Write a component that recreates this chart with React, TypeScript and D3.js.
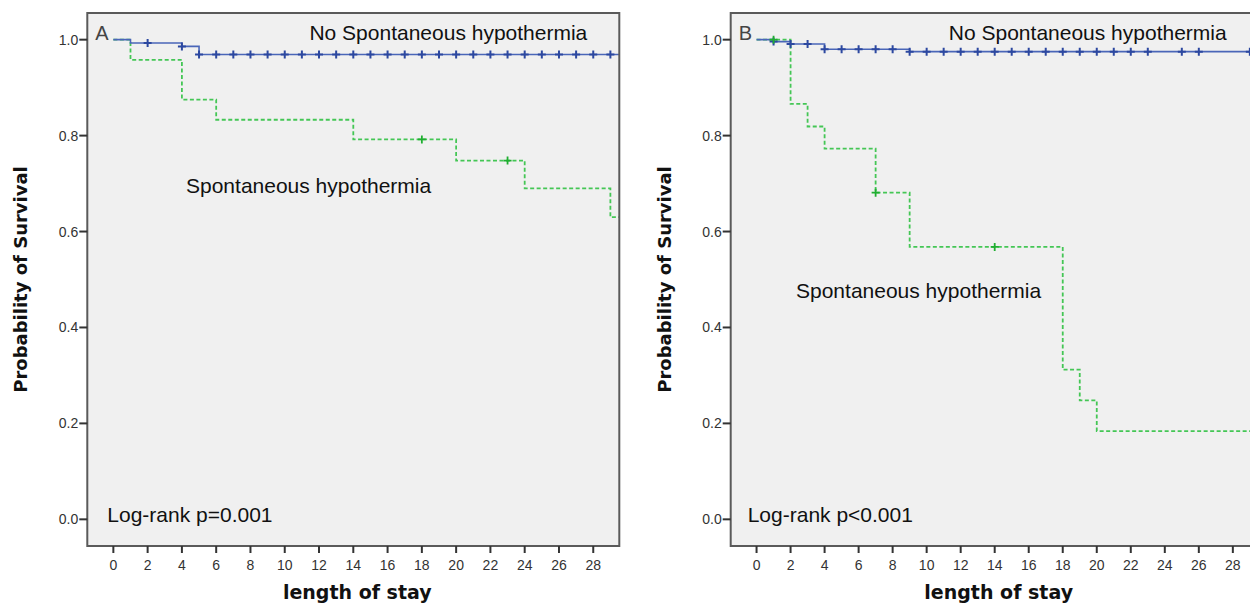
import React from "react";
import * as d3 from "d3";

// ---------- data ----------
const xTicks = [0, 2, 4, 6, 8, 10, 12, 14, 16, 18, 20, 22, 24, 26, 28];
const yTicks = [0, 0.2, 0.4, 0.6, 0.8, 1.0];

// Panel A
const aNoTimes = [0, 1, 4, 5];
const aNoSurv = [1.0, 0.993, 0.986, 0.969];
const aNoCensor = [2, 4, 5, 6, 7, 8, 9, 10, 11, 12, 13, 14, 15, 16, 17, 18, 19, 20, 21, 22, 23, 24, 25, 26, 27, 28, 29];
const aHypTimes = [0, 1, 4, 6, 14, 20, 24, 29];
const aHypSurv = [1.0, 0.958, 0.875, 0.833, 0.792, 0.748, 0.69, 0.63];
const aHypCensor = [18, 23];

// Panel B
const bNoTimes = [0, 1, 2, 4, 9];
const bNoSurv = [1.0, 0.996, 0.991, 0.98, 0.975];
const bNoCensor = [1, 2, 3, 4, 5, 6, 7, 8, 9, 10, 11, 12, 13, 14, 15, 16, 17, 18, 19, 20, 21, 22, 23, 25, 26, 29];
const bHypTimes = [0, 2, 3, 4, 7, 9, 18, 19, 20];
const bHypSurv = [1.0, 0.866, 0.819, 0.773, 0.681, 0.568, 0.312, 0.248, 0.184];
const bHypCensor = [1, 7, 14];

const panelLabels = ["A", "B"];
const pValues = ["Log-rank p=0.001", "Log-rank p<0.001"];

const X_DOMAIN: [number, number] = [-1.52, 29.52];
const Y_DOMAIN: [number, number] = [-0.0556, 1.0556];

const BLUE = "#4a66b8";
const BLUE_DARK = "#2c48a0";
const GREEN = "#44c655";
const GREEN_DARK = "#1fae30";

function survAt(times: number[], surv: number[], t: number) {
  let s = surv[0];
  for (let i = 0; i < times.length; i++) if (times[i] <= t) s = surv[i];
  return s;
}

type PanelProps = {
  left: number;
  width: number;
  label: string;
  pText: string;
  pX: number;
  noTimes: number[];
  noSurv: number[];
  noCensor: number[];
  hypTimes: number[];
  hypSurv: number[];
  hypCensor: number[];
  hypLabel: [number, number];
  id: string;
};

function Panel(p: PanelProps) {
  const top = 13;
  const bottom = 546;
  const x = d3.scaleLinear().domain(X_DOMAIN).range([p.left, p.left + p.width]);
  const y = d3.scaleLinear().domain(Y_DOMAIN).range([bottom, top]);
  const line = d3
    .line<[number, number]>()
    .x((d) => x(d[0]))
    .y((d) => y(d[1]))
    .curve(d3.curveStepAfter);
  const pts = (times: number[], surv: number[]): [number, number][] => {
    const arr: [number, number][] = times.map((t, i) => [t, surv[i]]);
    arr.push([X_DOMAIN[1], surv[surv.length - 1]]);
    return arr;
  };
  const cross = (t: number, s: number, r: number) => {
    const cx = x(t);
    const cy = y(s);
    return `M${cx - r},${cy}H${cx + r}M${cx},${cy - r}V${cy + r}`;
  };
  const sans = "'Liberation Sans', Arial, sans-serif";
  const bold = "'DejaVu Sans', Verdana, sans-serif";
  const midX = x(14);
  return (
    <g>
      <defs>
        <clipPath id={p.id}>
          <rect x={p.left} y={top} width={p.width} height={bottom - top} />
        </clipPath>
      </defs>
      <rect x={p.left} y={top} width={p.width} height={bottom - top} fill="#f0f0f0" />
      <g clipPath={`url(#${p.id})`}>
        <path d={line(pts(p.hypTimes, p.hypSurv)) || ""} fill="none" stroke={GREEN} strokeWidth={1.8} strokeDasharray="4,2.5" />
        <path d={line(pts(p.noTimes, p.noSurv)) || ""} fill="none" stroke={BLUE} strokeWidth={1.6} />
        {p.noCensor.map((t, i) => (
          <path key={"nc" + i} d={cross(t, survAt(p.noTimes, p.noSurv, t), 4)} stroke={BLUE_DARK} strokeWidth={2} fill="none" />
        ))}
        {p.hypCensor.map((t, i) => (
          <path key={"hc" + i} d={cross(t, survAt(p.hypTimes, p.hypSurv, t), 4)} stroke={GREEN_DARK} strokeWidth={1.8} fill="none" />
        ))}
      </g>
      <rect x={p.left} y={top} width={p.width} height={bottom - top} fill="none" stroke="#5a5a5a" strokeWidth={2} />
      {/* y axis */}
      {yTicks.map((v) => (
        <g key={"y" + v}>
          <line x1={p.left - 8} x2={p.left} y1={y(v)} y2={y(v)} stroke="#333" strokeWidth={2} />
          <text x={p.left - 9} y={y(v) + 5} textAnchor="end" fontFamily={sans} fontSize={14} fill="#333">
            {v.toFixed(1)}
          </text>
        </g>
      ))}
      {/* x axis */}
      {xTicks.map((v) => (
        <g key={"x" + v}>
          <line x1={x(v)} x2={x(v)} y1={bottom} y2={bottom + 7} stroke="#333" strokeWidth={2} />
          <text x={x(v)} y={bottom + 23.5} textAnchor="middle" fontFamily={sans} fontSize={14} fill="#333">
            {v}
          </text>
        </g>
      ))}
      <text x={midX + 4} y={599} textAnchor="middle" fontFamily={bold} fontWeight="bold" fontSize={19} fill="#111">
        length of stay
      </text>
      <text
        transform={`translate(${p.left - 60},${y(0.5)}) rotate(-90)`}
        textAnchor="middle"
        fontFamily={bold}
        fontWeight="bold"
        fontSize={18}
        fill="#111"
      >
        Probability of Survival
      </text>
      <text x={p.left + 8} y={40} fontFamily={sans} fontSize={20} fill="#444">
        {p.label}
      </text>
      <text x={p.left + p.width - 32} y={39.5} textAnchor="end" fontFamily={sans} fontSize={21} fill="#111">
        No Spontaneous hypothermia
      </text>
      <text x={p.hypLabel[0]} y={p.hypLabel[1]} fontFamily={sans} fontSize={21} fill="#111">
        Spontaneous hypothermia
      </text>
      <text x={p.left + p.pX} y={521.5} fontFamily={sans} fontSize={21} fill="#111">
        {p.pText}
      </text>
    </g>
  );
}

export default function App() {
  return (
    <svg
      width={1250}
      height={606}
      style={{ position: "absolute", left: 0, top: 0, background: "#fff" }}
    >
      <rect x={0} y={0} width={1250} height={606} fill="#fff" />
      <Panel
        id="clipA"
        left={87.3}
        width={532}
        label={panelLabels[0]}
        pText={pValues[0]}
        pX={20}
        noTimes={aNoTimes}
        noSurv={aNoSurv}
        noCensor={aNoCensor}
        hypTimes={aHypTimes}
        hypSurv={aHypSurv}
        hypCensor={aHypCensor}
        hypLabel={[186, 193]}
      />
      <Panel
        id="clipB"
        left={730.7}
        width={528}
        label={panelLabels[1]}
        pText={pValues[1]}
        pX={17}
        noTimes={bNoTimes}
        noSurv={bNoSurv}
        noCensor={bNoCensor}
        hypTimes={bHypTimes}
        hypSurv={bHypSurv}
        hypCensor={bHypCensor}
        hypLabel={[796, 297.5]}
      />
    </svg>
  );
}
